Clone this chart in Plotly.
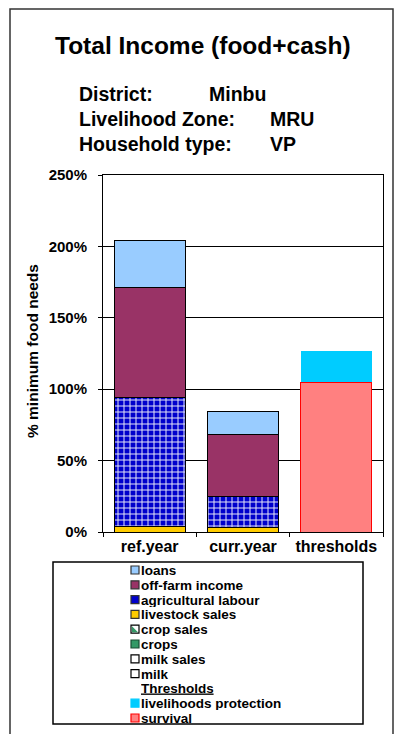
import plotly.graph_objects as go

# ---- data (% of minimum food needs) ----
categories = ["ref.year", "curr.year", "thresholds"]
livestock_sales = [4, 3, None]
agricultural_labour = [90, 22, None]
off_farm_income = [77, 43, None]
loans = [33, 16.5, None]
survival = [None, None, 105]
livelihoods_protection = [None, None, 21.5]

y_ticks = [0, 50, 100, 150, 200, 250]
y_tick_labels = ["0%", "50%", "100%", "150%", "200%", "250%"]

income_legend = ["loans", "off-farm income", "agricultural labour", "livestock sales",
                 "crop sales", "crops", "milk sales", "milk"]
threshold_legend = ["livelihoods protection", "survival"]

# ---- styling ----
W, H = 395, 734
L, R, T, B = 103, 383, 175, 532
FONT = "Liberation Sans, Arial, sans-serif"

C_LOANS = "#99CCFF"
C_OFFFARM = "#993366"
C_AGRI = "#0000CC"
C_LIVESTOCK = "#FFCC00"
C_CROPS = "#339966"
C_PROTECT = "#00CCFF"
C_SURVIVAL = "#FF8080"


def px_x(px):
    return (px - L) / (R - L)


def px_y(py):
    return (B - py) / (B - T)


fig = go.Figure()

bar_line = dict(color="#000000", width=1)
fig.add_trace(go.Bar(x=categories, y=livestock_sales, name="livestock sales",
                     marker=dict(color=C_LIVESTOCK, line=bar_line)))
fig.add_trace(go.Bar(x=categories, y=agricultural_labour, name="agricultural labour",
                     marker=dict(color=C_AGRI, line=bar_line,
                                 pattern=dict(shape="+", fgcolor="#E8E8F8", bgcolor=C_AGRI,
                                              size=6, solidity=0.3, fillmode="replace"))))
fig.add_trace(go.Bar(x=categories, y=off_farm_income, name="off-farm income",
                     marker=dict(color=C_OFFFARM, line=bar_line)))
fig.add_trace(go.Bar(x=categories, y=loans, name="loans",
                     marker=dict(color=C_LOANS, line=bar_line)))
fig.add_trace(go.Bar(x=categories, y=survival, name="survival",
                     marker=dict(color=C_SURVIVAL, line=dict(color="#FF0000", width=1))))
fig.add_trace(go.Bar(x=categories, y=livelihoods_protection, name="livelihoods protection",
                     marker=dict(color=C_PROTECT, line=dict(color=C_PROTECT, width=0))))

shapes = []
annotations = []

# outer chart frame
shapes.append(dict(type="rect", xref="paper", yref="paper",
                   x0=px_x(10), x1=px_x(393), y0=px_y(9), y1=px_y(740),
                   line=dict(color="#333333", width=1.5), fillcolor="rgba(0,0,0,0)", layer="below"))

# title and header block
annotations.append(dict(text="<b>Total Income (food+cash)</b>", xref="paper", yref="paper",
                        x=px_x(203), y=px_y(45), xanchor="center", yanchor="middle",
                        showarrow=False, font=dict(family=FONT, size=24.5, color="#000")))
header = [("District:", "Minbu", 207, 94), ("Livelihood Zone:", "MRU", 268, 119),
          ("Household type:", "VP", 268, 144)]
for label, value, vx, yy in header:
    annotations.append(dict(text=f"<b>{label}</b>", xref="paper", yref="paper",
                            x=px_x(77), y=px_y(yy), xanchor="left", yanchor="middle",
                            showarrow=False, font=dict(family=FONT, size=19.5, color="#000")))
    annotations.append(dict(text=f"<b>{value}</b>", xref="paper", yref="paper",
                            x=px_x(vx), y=px_y(yy), xanchor="left", yanchor="middle",
                            showarrow=False, font=dict(family=FONT, size=19.5, color="#000")))

# y-axis title
annotations.append(dict(text="<b>% minimum food needs</b>", xref="paper", yref="paper",
                        x=px_x(32), y=px_y(351), xanchor="center", yanchor="middle",
                        textangle=-90, showarrow=False,
                        font=dict(family=FONT, size=15.5, color="#000")))

# legend box
shapes.append(dict(type="rect", xref="paper", yref="paper",
                   x0=px_x(53), x1=px_x(363), y0=px_y(562), y1=px_y(724),
                   line=dict(color="#000", width=1.5), fillcolor="#FFFFFF"))

legend_rows = []
income_swatches = [(C_LOANS, "#333"), (C_OFFFARM, "#333"), (C_AGRI, "#333"), (C_LIVESTOCK, "#333"),
                   ("#FFFFFF", "#000"), (C_CROPS, "#1a4d33"), ("#FFFFFF", "#000"), ("#FFFFFF", "#000")]
for name, sw in zip(income_legend, income_swatches):
    legend_rows.append((name, sw))
legend_rows.append(("<u>Thresholds</u>", None))
threshold_swatches = [(C_PROTECT, C_PROTECT), (C_SURVIVAL, "#FF0000")]
for name, sw in zip(threshold_legend, threshold_swatches):
    legend_rows.append((name, sw))

row_y0, row_dy = 570, 14.8
for i, (name, sw) in enumerate(legend_rows):
    cy = row_y0 + i * row_dy
    annotations.append(dict(text=f"<b>{name}</b>", xref="paper", yref="paper",
                            x=px_x(140), y=px_y(cy), xanchor="left", yanchor="middle",
                            height=14, borderpad=0, valign="middle",
                            showarrow=False, font=dict(family=FONT, size=13.5, color="#000")))
    if sw is not None:
        fill, edge = sw
        shapes.append(dict(type="rect", xref="paper", yref="paper",
                           x0=px_x(131), x1=px_x(139), y0=px_y(cy - 4), y1=px_y(cy + 4),
                           line=dict(color=edge, width=1.2), fillcolor=fill))
        if name == "crop sales":
            shapes.append(dict(type="path", xref="paper", yref="paper",
                               path=f"M {px_x(132)},{px_y(cy - 3)} L {px_x(138)},{px_y(cy + 3)} "
                                    f"L {px_x(132)},{px_y(cy + 3)} Z",
                               line=dict(width=0), fillcolor=C_CROPS))

fig.update_layout(
    width=W, height=H,
    margin=dict(l=L, r=W - R, t=T, b=H - B, pad=0),
    barmode="stack", bargap=0.24,
    plot_bgcolor="#FFFFFF", paper_bgcolor="#FFFFFF",
    showlegend=False,
    font=dict(family=FONT, color="#000"),
    shapes=shapes, annotations=annotations,
    xaxis=dict(type="category", categoryarray=categories, range=[-0.5, 2.5],
               showline=True, linecolor="#000", linewidth=1, mirror=True,
               ticks="outside", tickson="boundaries", ticklen=4, tickcolor="#000",
               tickfont=dict(family=FONT, size=16, color="#000"),
               tickvals=categories, ticktext=[f"<b>{c}</b>" for c in categories],
               showgrid=False),
    yaxis=dict(range=[0, 250], tickvals=y_ticks,
               ticktext=[f"<b>{t}</b>" for t in y_tick_labels],
               showline=True, linecolor="#000", linewidth=1, mirror=True,
               ticks="outside", ticklen=4, tickcolor="#000", ticklabelstandoff=8,
               tickfont=dict(family=FONT, size=15, color="#000"),
               showgrid=True, gridcolor="#000", gridwidth=1, zeroline=False),
)

fig.write_html("out.html")
